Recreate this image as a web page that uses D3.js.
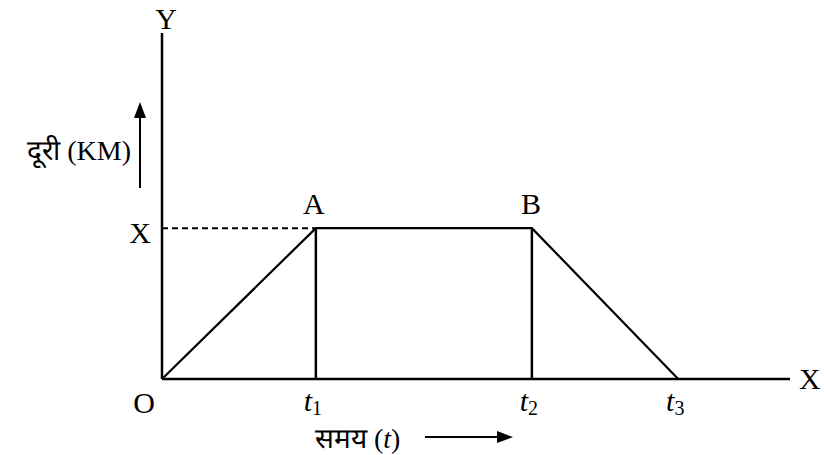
<!DOCTYPE html>
<html><head><meta charset="utf-8">
<script src="https://cdn.jsdelivr.net/npm/d3@7"></script>
<style>body{margin:0;background:#fff}svg{display:block}</style>
</head><body><svg id="c" width="824" height="455"></svg>
<script>
// data
const pointNames = ["O", "A", "B", "t3"];
const timeValues = [0, 24.5, 58.9, 82.2];
const distanceValues = [0, 43.6, 43.6, 0];
const xTickNames = ["t", "t", "t"];
const xTickSubs = ["1", "2", "3"];
const xTickValues = [24.5, 58.9, 82.2];
const yTickLabel = "X";
const yTickValue = 43.6;
const xAxisTitle = "समय";
const yAxisTitle = "दूरी (KM)";

const FONT = '"Liberation Serif"';
const svg = d3.select("#c");
const x = d3.scaleLinear().domain([0, 100]).range([162, 790]);
const y = d3.scaleLinear().domain([0, 100]).range([379, 33]);

// axes
svg.append("line").attr("x1", x(0)).attr("x2", x(0)).attr("y1", y(0)).attr("y2", y(100))
  .attr("stroke", "#000").attr("stroke-width", 2.5);
svg.append("line").attr("x1", x(0)).attr("x2", x(100)).attr("y1", y(0)).attr("y2", y(0))
  .attr("stroke", "#000").attr("stroke-width", 2.5);

// dashed guide
svg.append("line").attr("x1", x(0)).attr("x2", x(timeValues[1])).attr("y1", y(yTickValue)).attr("y2", y(yTickValue))
  .attr("stroke", "#000").attr("stroke-width", 2).attr("stroke-dasharray", "6,4");

// path
const pts = timeValues.map((t, i) => [x(t), y(distanceValues[i])]);
svg.append("path").attr("d", d3.line()(pts)).attr("fill", "none").attr("stroke", "#000")
  .attr("stroke-width", 2.2).attr("stroke-linejoin", "miter");
[1, 2].forEach(i => {
  svg.append("line").attr("x1", x(timeValues[i])).attr("x2", x(timeValues[i]))
    .attr("y1", y(distanceValues[i])).attr("y2", y(0)).attr("stroke", "#000").attr("stroke-width", 2.5);
});

const fs = 30;
function txt(xx, yy, s, anchor, size) {
  return svg.append("text").attr("x", xx).attr("y", yy).style("font-family", FONT)
    .attr("font-size", size || fs).attr("text-anchor", anchor || "middle").attr("fill", "#000").text(s);
}
txt(x(0) + 4, 29, "Y");
txt(799, 389, "X", "start");
txt(144, 413, pointNames[0]);
txt(x(timeValues[1]) - 2, 214, pointNames[1]);
txt(x(timeValues[2]) - 1, 214, pointNames[2]);
txt(140, 243, yTickLabel);

xTickValues.forEach((v, i) => {
  const t = svg.append("text").attr("x", x(v) - 3).attr("y", 411).style("font-family", FONT)
    .attr("font-size", fs).attr("text-anchor", "middle");
  t.append("tspan").attr("font-style", "italic").text(xTickNames[i]);
  t.append("tspan").attr("font-size", 20).attr("dy", 4).text(xTickSubs[i]);
});

const xt = svg.append("text").attr("x", 315).attr("y", 448).style("font-family", FONT).attr("font-size", 28);
xt.append("tspan").text(xAxisTitle + " (");
xt.append("tspan").attr("font-style", "italic").text("t");
xt.append("tspan").text(")");
svg.append("line").attr("x1", 425).attr("x2", 500).attr("y1", 437).attr("y2", 437).attr("stroke", "#000").attr("stroke-width", 2);
svg.append("path").attr("d", "M513,437 L497,431 L497,443 Z").attr("fill", "#000");

txt(131, 160, yAxisTitle, "end", 28);
svg.append("line").attr("x1", 140).attr("x2", 140).attr("y1", 188).attr("y2", 115).attr("stroke", "#000").attr("stroke-width", 2);
svg.append("path").attr("d", "M140,102 L134,118 L146,118 Z").attr("fill", "#000");
</script></body></html>
